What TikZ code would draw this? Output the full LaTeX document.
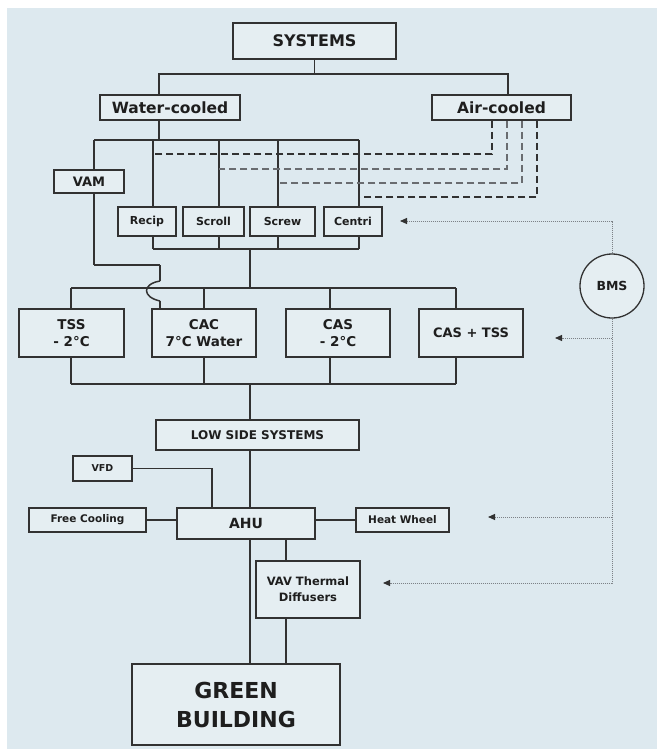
\documentclass[tikz,border=0pt]{standalone}
\usepackage{fontspec}
\setmainfont{DejaVu Sans}
\usetikzlibrary{arrows.meta}
\definecolor{bg}{RGB}{221,233,239}
\definecolor{boxfill}{RGB}{229,238,242}
\definecolor{ln}{RGB}{50,50,50}
\definecolor{txt}{RGB}{30,30,30}
\definecolor{dotc}{RGB}{125,130,135}
\definecolor{dashlight}{RGB}{105,108,112}
\begin{document}
\begin{tikzpicture}[x=1pt,y=-1pt,
  box/.style={draw=ln, line width=1.5pt, fill=boxfill, inner sep=0pt, align=center, text=txt},
  sz/.style 2 args={font=\bfseries\fontsize{#1}{#2}\selectfont},
  wire/.style={draw=ln, line width=1.5pt},
  airdash/.style={draw=ln, line width=1.8pt, dash pattern=on 7pt off 4pt},
  airdashlight/.style={draw=dashlight, line width=1.5pt, dash pattern=on 7pt off 4pt},
  bmsline/.style={draw=dotc, line width=1pt, densely dotted, -{Triangle[length=7pt,width=6pt,color=ln]}}
]
\useasboundingbox (0,0) rectangle (657,753);
\fill[bg] (7,8) rectangle (657,749);

% ---------- nodes ----------
\node[box, minimum width=163pt, minimum height=36pt, sz={16}{19}] (sys) at (314.5,41) {SYSTEMS};
\node[box, minimum width=140pt, minimum height=25pt, sz={15.5}{18}] (wc) at (170,107.5) {Water-cooled};
\node[box, minimum width=139pt, minimum height=25pt, sz={15.5}{18}] (ac) at (501.5,107.5) {Air-cooled};
\node[box, minimum width=70pt, minimum height=23pt, sz={13}{15}] (vam) at (89,181.5) {VAM};

\node[box, minimum width=58pt, minimum height=29pt, sz={11}{13}] (recip) at (147,221.5) {Recip};
\node[box, minimum width=61pt, minimum height=29pt, sz={11}{13}] (scroll) at (213.5,221.5) {Scroll};
\node[box, minimum width=65pt, minimum height=29pt, sz={11}{13}] (screw) at (282.5,221.5) {Screw};
\node[box, minimum width=58pt, minimum height=29pt, sz={11}{13}] (centri) at (353,221.5) {Centri};

\node[box, minimum width=105pt, minimum height=48pt, sz={13.5}{17}] (tss) at (71.5,333) {TSS\\- 2°C};
\node[box, minimum width=104pt, minimum height=48pt, sz={13.5}{17}] (cac) at (204,333) {CAC\\7°C Water};
\node[box, minimum width=104pt, minimum height=48pt, sz={13.5}{17}] (cas) at (338,333) {CAS\\- 2°C};
\node[box, minimum width=104pt, minimum height=48pt, sz={13}{17}] (castss) at (471,333) {CAS + TSS};

\node[box, minimum width=203pt, minimum height=30pt, sz={12}{15}] (low) at (257.5,435) {LOW SIDE SYSTEMS};
\node[box, minimum width=59pt, minimum height=25pt, sz={9.5}{11}] (vfd) at (102.5,468.5) {VFD};
\node[box, minimum width=117pt, minimum height=24pt, sz={10.5}{12}] (free) at (87.5,520) {Free Cooling};
\node[box, minimum width=138pt, minimum height=31pt, sz={14}{17}] (ahu) at (246,523.5) {AHU};
\node[box, minimum width=93pt, minimum height=24pt, sz={10.5}{12}] (heat) at (402.5,520) {Heat Wheel};
\node[box, minimum width=104pt, minimum height=57pt, sz={11.5}{16}] (vav) at (308,589.5) {VAV Thermal\\Diffusers};
\node[box, minimum width=208pt, minimum height=81pt, sz={22}{29}] (green) at (236,704.5) {GREEN\\BUILDING};
\node[box, circle, minimum size=64pt, line width=1.3pt, sz={12.5}{14}] (bms) at (612,286) {BMS};

% ---------- coordinates ----------
\coordinate (j1) at (314.5,74);
\coordinate (tbL) at (94,140);
\coordinate (tbR) at (359,140);
\coordinate (tbW) at (159,140);
\coordinate (bbL) at (153,249);
\coordinate (bbR) at (359,249);
\coordinate (bbC) at (250,249);
\coordinate (ubL) at (71,288);
\coordinate (ubR) at (456,288);
\coordinate (ubC) at (250,288);
\coordinate (lbL) at (71,384);
\coordinate (lbR) at (456,384);
\coordinate (lbC) at (250,384);
\coordinate (vk1) at (94,265);
\coordinate (vk2) at (160,265);
\coordinate (h1) at (160,281);
\coordinate (h2) at (160,301);
\coordinate (d1) at (153,154);
\coordinate (d2) at (219,169);
\coordinate (d3) at (278,183);
\coordinate (d4) at (359,197);
\coordinate (a1) at (400,221);
\coordinate (a2) at (555,338);
\coordinate (a3) at (488,517);
\coordinate (a4) at (383,583);

% ---------- top tree ----------
\draw[wire] (sys.south) -- (j1);
\draw[wire] (159,0 |- wc.north) |- (j1) -| (508,0 |- ac.north);
\draw[wire] (159,0 |- wc.south) -- (tbW);

% ---------- compressor buses ----------
\draw[wire] (tbL) -- (tbR);
\foreach \x/\n in {153/recip,219/scroll,278/screw,359/centri}{
  \draw[wire] (\x,140) -- (\n.north -| \x,0);
  \draw[wire] (\n.south -| \x,0) -- (\x,249);
}
\draw[wire] (bbL) -- (bbR);
\draw[wire] (bbC) -- (ubC);

% ---------- air-cooled dashed feeds ----------
\draw[airdash] (492,0 |- ac.south) |- (d1);
\draw[airdashlight] (507,0 |- ac.south) |- (d2);
\draw[airdashlight] (522,0 |- ac.south) |- (d3);
\draw[airdash] (537,0 |- ac.south) |- (d4);

% ---------- VAM line with hop ----------
\draw[wire] (tbL) -- (vam.north -| tbL);
\draw[wire] (vam.south -| tbL) -- (vk1);
\draw[wire] (vk1) -- (vk2);
\draw[wire] (vk2) -- (h1);
\draw[wire] (h1) .. controls (142,284) and (142,297) .. (h2);
\draw[wire] (h2) -- (cac.north -| h2);

% ---------- storage row buses ----------
\draw[wire] (ubL) -- (ubR);
\draw[wire] (lbL) -- (lbR);
\foreach \x/\n in {71/tss,204/cac,330/cas,456/castss}{
  \draw[wire] (\x,288) -- (\n.north -| \x,0);
  \draw[wire] (\n.south -| \x,0) -- (\x,384);
}
\draw[wire] (lbC) -- (low.north -| lbC);

% ---------- low side ----------
\draw[wire] (low.south -| lbC) -- (ahu.north -| lbC);
\draw[wire] (vfd.east) -| (ahu.north -| 212,0);
\draw[wire] (free.east) -- (free.east -| ahu.west);
\draw[wire] (ahu.east |- heat.west) -- (heat.west);
\draw[wire] (ahu.south -| lbC) -- (green.north -| lbC);
\draw[wire] (ahu.south -| 286,0) -- (vav.north -| 286,0);
\draw[wire] (vav.south -| 286,0) -- (green.north -| 286,0);

% ---------- BMS control lines ----------
\draw[bmsline] (bms.north) |- (a1);
\draw[bmsline] (bms.south) |- (a4);
\draw[bmsline] (bms.south |- a2) -- (a2);
\draw[bmsline] (bms.south |- a3) -- (a3);
\end{tikzpicture}
\end{document}
